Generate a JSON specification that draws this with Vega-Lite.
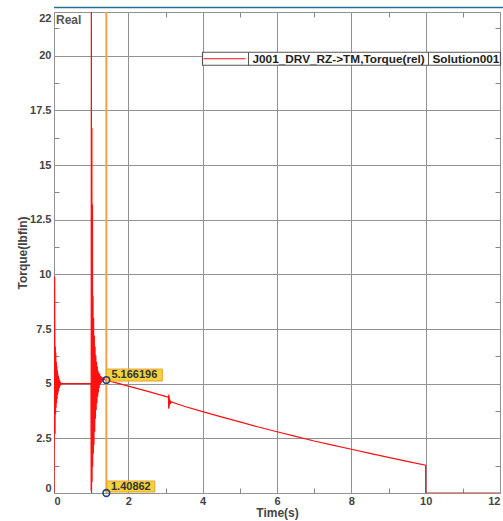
{
  "$schema": "https://vega.github.io/schema/vega-lite/v6.json",
  "width": 446,
  "height": 481,
  "autosize": {"type": "none"},
  "padding": {"left": 54, "top": 12, "right": 3, "bottom": 28},
  "background": "white",
  "config": {
    "font": "Liberation Sans",
    "view": {"stroke": "#9a9a9a", "strokeWidth": 1},
    "axis": {
      "labelFont": "Liberation Sans", "labelFontWeight": "bold", "labelFontSize": 11, "labelColor": "#444",
      "titleFont": "Liberation Sans", "titleFontWeight": "bold", "titleFontSize": 12, "titleColor": "#444",
      "gridColor": "#929292", "gridOpacity": 1, "gridWidth": 1, "tickColor": "#888", "domain": false, "labelFlush": true, "labelOverlap": false
    }
  },
  "resolve": {"axis": {"x": "independent", "y": "independent"}},
  "layer": [
    {
      "data": {"values": [
        {"t": 0, "v": 0}, {"t": 0.018, "v": 9.9}, {"t": 0.028, "v": 2.7}, {"t": 0.036, "v": 6.7}, {"t": 0.042, "v": 3.6},
        {"t": 0.049, "v": 6.4}, {"t": 0.056, "v": 3.9}, {"t": 0.063, "v": 6.0}, {"t": 0.07, "v": 4.1}, {"t": 0.077, "v": 5.8},
        {"t": 0.084, "v": 4.3}, {"t": 0.091, "v": 5.6}, {"t": 0.098, "v": 4.5}, {"t": 0.105, "v": 5.45}, {"t": 0.112, "v": 4.6},
        {"t": 0.119, "v": 5.35}, {"t": 0.126, "v": 4.7}, {"t": 0.134, "v": 5.25}, {"t": 0.142, "v": 4.8}, {"t": 0.15, "v": 5.15},
        {"t": 0.158, "v": 4.88}, {"t": 0.166, "v": 5.1}, {"t": 0.176, "v": 4.93}, {"t": 0.186, "v": 5.05}, {"t": 0.196, "v": 4.98},
        {"t": 0.22, "v": 5.0}, {"t": 0.995, "v": 5.0},
        {"t": 1.0, "v": 0.1}, {"t": 1.005, "v": 26}, {"t": 1.01, "v": 0.0}, {"t": 1.02, "v": 16.7}, {"t": 1.025, "v": 0.5},
        {"t": 1.035, "v": 13.2}, {"t": 1.04, "v": 1.2}, {"t": 1.05, "v": 9.0}, {"t": 1.058, "v": 1.8}, {"t": 1.066, "v": 8.0},
        {"t": 1.075, "v": 2.2}, {"t": 1.085, "v": 7.2}, {"t": 1.095, "v": 2.8}, {"t": 1.105, "v": 6.7}, {"t": 1.115, "v": 3.4},
        {"t": 1.125, "v": 6.3}, {"t": 1.135, "v": 3.8}, {"t": 1.145, "v": 6.0}, {"t": 1.155, "v": 4.1}, {"t": 1.165, "v": 5.8},
        {"t": 1.175, "v": 4.4}, {"t": 1.185, "v": 5.6}, {"t": 1.195, "v": 4.6}, {"t": 1.205, "v": 5.5}, {"t": 1.215, "v": 4.8},
        {"t": 1.23, "v": 5.45}, {"t": 1.245, "v": 4.95}, {"t": 1.26, "v": 5.35}, {"t": 1.275, "v": 5.05}, {"t": 1.29, "v": 5.3},
        {"t": 1.31, "v": 5.15}, {"t": 1.335, "v": 5.25}, {"t": 1.37, "v": 5.18}, {"t": 1.40862, "v": 5.166196},
        {"t": 1.5, "v": 5.12}, {"t": 2.0, "v": 4.89}, {"t": 2.5, "v": 4.66}, {"t": 3.0, "v": 4.42}, {"t": 3.08, "v": 4.38},
        {"t": 3.085, "v": 3.85}, {"t": 3.09, "v": 4.5}, {"t": 3.095, "v": 3.9}, {"t": 3.1, "v": 4.42}, {"t": 3.105, "v": 4.0},
        {"t": 3.11, "v": 4.3}, {"t": 3.12, "v": 4.08}, {"t": 3.13, "v": 4.22}, {"t": 3.145, "v": 4.12}, {"t": 3.16, "v": 4.16},
        {"t": 3.5, "v": 3.97}, {"t": 4.0, "v": 3.72}, {"t": 4.5, "v": 3.48}, {"t": 5.0, "v": 3.25}, {"t": 5.5, "v": 3.02},
        {"t": 6.0, "v": 2.8}, {"t": 6.5, "v": 2.59}, {"t": 7.0, "v": 2.38}, {"t": 7.5, "v": 2.19}, {"t": 8.0, "v": 2.0},
        {"t": 8.5, "v": 1.81}, {"t": 9.0, "v": 1.63}, {"t": 9.5, "v": 1.45}, {"t": 10.0, "v": 1.27}, {"t": 10.001, "v": 0},
        {"t": 12, "v": 0}
      ]},
      "mark": {"type": "line", "clip": true, "strokeWidth": 1.2, "interpolate": "linear", "color": "#ff1010"},
      "encoding": {
        "x": {"field": "t", "type": "quantitative", "scale": {"domain": [0, 12], "nice": false, "zero": false},
          "axis": {"orient": "bottom", "values": [0, 2, 4, 6, 8, 10, 12], "grid": true, "ticks": false, "format": ".4~g",
            "title": "Time(s)", "labelPadding": 2, "titlePadding": 1}},
        "y": {"field": "v", "type": "quantitative", "scale": {"domain": [0, 22], "nice": false, "zero": false},
          "axis": {"orient": "left", "values": [0, 2.5, 5, 7.5, 10, 12.5, 15, 17.5, 20, 22], "grid": true, "ticks": false, "format": ".4~g",
            "title": "Torque(lbfin)", "labelPadding": 3, "titlePadding": 0}}
      }
    },
    {
      "data": {"values": [{"t": 1.40862}]},
      "mark": {"type": "rule", "color": "#f7a242", "strokeWidth": 2},
      "encoding": {"x": {"field": "t", "type": "quantitative", "axis": null}}
    },
    {
      "data": {"values": [{"t": 1.40862, "v": 5.166196, "label": "5.166196"}]},
      "mark": {"type": "rect", "width": 56, "height": 12, "xOffset": 28, "yOffset": -5, "fill": "#f6d33c", "stroke": "#e9a233", "strokeWidth": 1},
      "encoding": {
        "x": {"field": "t", "type": "quantitative", "axis": {"orient": "top", "values": [1, 3, 5, 7, 9, 11], "labels": false, "grid": false, "ticks": true, "tickSize": -5, "title": null}},
        "y": {"field": "v", "type": "quantitative", "axis": {"orient": "right", "values": [1.25, 3.75, 6.25, 8.75, 11.25, 13.75, 16.25, 18.75, 21.25], "labels": false, "grid": false, "ticks": true, "tickSize": -5, "title": null}}
      }
    },
    {
      "data": {"values": [{"t": 1.40862, "v": 5.166196, "label": "5.166196"}]},
      "mark": {"type": "text", "dx": 28, "dy": -5, "align": "center", "baseline": "middle", "fontSize": 11, "fontWeight": "bold", "color": "#333"},
      "encoding": {
        "x": {"field": "t", "type": "quantitative", "axis": null},
        "y": {"field": "v", "type": "quantitative", "axis": null},
        "text": {"field": "label"}
      }
    },
    {
      "data": {"values": [{"t": 1.40862, "v": 0, "label": "1.40862"}]},
      "mark": {"type": "rect", "width": 48, "height": 11, "xOffset": 24.5, "yOffset": -6.5, "fill": "#f6d33c", "stroke": "#e9a233", "strokeWidth": 1},
      "encoding": {
        "x": {"field": "t", "type": "quantitative", "axis": null},
        "y": {"field": "v", "type": "quantitative", "axis": null}
      }
    },
    {
      "data": {"values": [{"t": 1.40862, "v": 0, "label": "1.40862"}]},
      "mark": {"type": "text", "dx": 24.5, "dy": -6.5, "align": "center", "baseline": "middle", "fontSize": 11, "fontWeight": "bold", "color": "#333"},
      "encoding": {
        "x": {"field": "t", "type": "quantitative", "axis": null},
        "y": {"field": "v", "type": "quantitative", "axis": null},
        "text": {"field": "label"}
      }
    },
    {
      "data": {"values": [{"t": 1.40862, "v": 5.166196}, {"t": 1.40862, "v": 0}]},
      "mark": {"type": "point", "filled": false, "size": 45, "stroke": "#1c3f8c", "strokeWidth": 1.6, "opacity": 1},
      "encoding": {
        "x": {"field": "t", "type": "quantitative", "axis": {"orient": "bottom", "values": [1, 3, 5, 7, 9, 11], "labels": false, "grid": false, "ticks": true, "tickSize": -5, "title": null}},
        "y": {"field": "v", "type": "quantitative", "axis": {"orient": "left", "values": [1.25, 3.75, 6.25, 8.75, 11.25, 13.75, 16.25, 18.75, 21.25], "labels": false, "grid": false, "ticks": true, "tickSize": -5, "title": null}}
      }
    },
    {
      "data": {"values": [{"t": 0, "v": 22, "label": "Real"}]},
      "mark": {"type": "text", "align": "left", "baseline": "top", "dx": 2, "dy": 3, "fontSize": 12, "fontWeight": "bold", "color": "#555"},
      "encoding": {
        "x": {"field": "t", "type": "quantitative", "axis": null},
        "y": {"field": "v", "type": "quantitative", "axis": null},
        "text": {"field": "label"}
      }
    },
    {
      "data": {"values": [{"v": 22}]},
      "mark": {"type": "rule", "color": "#226f94", "strokeWidth": 1.5, "yOffset": -4.5, "xOffset": 3, "x2Offset": -39},
      "encoding": {"y": {"field": "v", "type": "quantitative", "axis": null}}
    },
    {
      "data": {"values": [{"t": 12, "v": 20}]},
      "mark": {"type": "rect", "width": 298, "height": 13, "xOffset": -148.5, "yOffset": 3, "fill": "white", "stroke": "#555", "strokeWidth": 1.2},
      "encoding": {
        "x": {"field": "t", "type": "quantitative", "axis": null},
        "y": {"field": "v", "type": "quantitative", "axis": null}
      }
    },
    {
      "data": {"values": [{"t": 12, "v": 20}]},
      "mark": {"type": "rule", "color": "#ff1010", "strokeWidth": 1.2, "xOffset": -296.5, "x2Offset": -254.5, "yOffset": 3},
      "encoding": {
        "x": {"field": "t", "type": "quantitative", "axis": null},
        "x2": {"field": "t"},
        "y": {"field": "v", "type": "quantitative", "axis": null}
      }
    },
    {
      "data": {"values": [{"t": 12, "v": 20, "o": "a"}, {"t": 12, "v": 20, "o": "b"}]},
      "mark": {"type": "rule", "color": "#555", "strokeWidth": 1, "yOffset": -3.6, "y2Offset": 9.6,
        "xOffset": {"expr": "datum.o === 'a' ? -251.5 : -71.5"}},
      "encoding": {
        "x": {"field": "t", "type": "quantitative", "axis": null},
        "y": {"field": "v", "type": "quantitative", "axis": null},
        "y2": {"field": "v"}
      }
    },
    {
      "data": {"values": [{"t": 12, "v": 20, "label": "J001_DRV_RZ->TM,Torque(rel)", "o": "a"}, {"t": 12, "v": 20, "label": "Solution001", "o": "b"}]},
      "mark": {"type": "text", "align": "left", "baseline": "middle", "dy": 3.5, "fontSize": 11.8, "fontWeight": "bold", "color": "#222",
        "dx": {"expr": "datum.o === 'a' ? -247.5 : -67.5"}},
      "encoding": {
        "x": {"field": "t", "type": "quantitative", "axis": null},
        "y": {"field": "v", "type": "quantitative", "axis": null},
        "text": {"field": "label"}
      }
    }
  ]
}
